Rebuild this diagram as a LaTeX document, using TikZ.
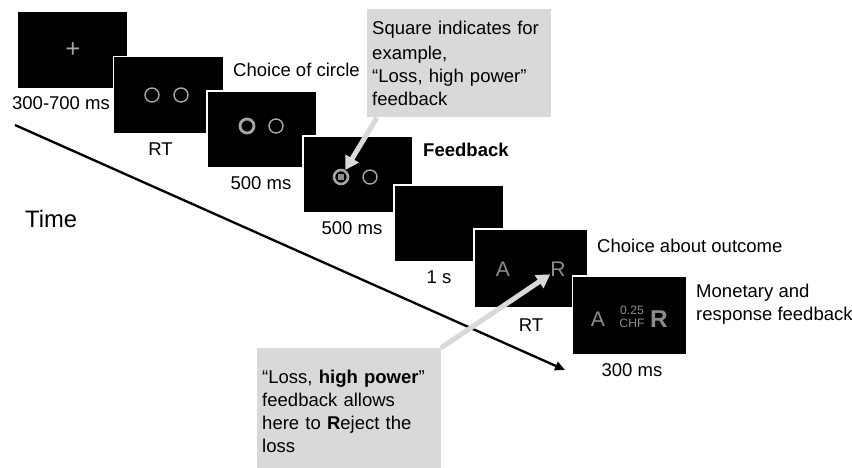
\documentclass[tikz,border=0pt]{standalone}
\usepackage{fontspec}
\setmainfont{Liberation Sans}
\usetikzlibrary{arrows.meta}
\definecolor{notegray}{HTML}{D9D9D9}
\definecolor{ringgray}{HTML}{A6A6A6}
\definecolor{lettergray}{HTML}{8C8C8C}
\begin{document}
\begin{tikzpicture}[x=0.03cm, y=-0.03cm,
		screen/.style={fill=black, draw=white, line width=1.5pt, minimum width=3.3cm, minimum height=2.31cm, inner sep=0pt},
		bigscreen/.style={screen, minimum width=3.42cm, minimum height=2.37cm},
		txt/.style={font=\fontsize{15.8}{19.6}\selectfont, inner sep=0pt},
		ring/.style={circle, draw=ringgray, line width=1.2pt, minimum size=0.42cm, inner sep=0pt},
		letter/.style={text=lettergray, inner sep=0pt, font=\fontsize{18}{18}\selectfont},
		note/.style={txt, fill=notegray, text width=5.2cm, inner xsep=0.15cm, align=left, anchor=north west},
		pointer/.style={notegray, line width=0.15cm, -{Triangle[length=0.4cm, width=0.45cm]}}]
	\path [use as bounding box, clip] (0,0) rectangle (852,467);
	\coordinate (tstart) at (15,125);
	\coordinate (tend) at (565,370);
	\draw [line width=2pt, -{Triangle[length=0.3cm, width=0.27cm]}] (tstart) -- (tend);
	\node [screen] (s1) at (72.5,50) {};
	\node [text=ringgray, inner sep=0pt, font=\fontsize{22}{22}\selectfont] (fix) at (73,50) {+};
	\node [screen] (s2) at (168.5,95) {};
	\node [ring] (c2a) at (152,95) {};
	\node [ring] (c2b) at (181,95) {};
	\node [screen] (s3) at (262,129.5) {};
	\node [ring, line width=2.4pt] (c3a) at (247,126) {};
	\node [ring] (c3b) at (276,126) {};
	\node [screen] (s4) at (358,174.5) {};
	\node [ring, line width=2.2pt] (c4a) at (341,177) {};
	\node [fill=lettergray, minimum size=0.17cm, inner sep=0pt] (sq4) at (341,177) {};
	\node [ring] (c4b) at (370,177) {};
	\node [screen] (s5) at (449,223.5) {};
	\node [bigscreen] (s6) at (531,268.5) {};
	\node [letter] (a6) at (503,269) {A};
	\node [letter] (r6) at (558,269) {R};
	\node [bigscreen] (s7) at (629.5,315.5) {};
	\node [letter] (a7) at (598,319) {A};
	\node [letter, font=\fontsize{10.4}{10.4}\selectfont] (amount) at (632,310) {0.25};
	\node [letter, font=\fontsize{10.4}{10.4}\selectfont] (chf) at (632,323) {CHF};
	\node [letter, font=\fontsize{20.8}{20.8}\selectfont\bfseries] (r7) at (659,319) {R};
	\node [txt] (t300700) at (61,103) {300-700 ms};
	\node [txt] (trt1) at (160.5,149) {RT};
	\node [txt] (t500a) at (261,183) {500 ms};
	\node [txt] (t500b) at (352,228) {500 ms};
	\node [txt] (t1s) at (439,277) {1 s};
	\node [txt] (trt2) at (531,325) {RT};
	\node [txt] (t300) at (632,370) {300 ms};
	\node [txt, anchor=west] (choice1) at (233,70) {Choice of circle};
	\node [txt, anchor=west] (fb) at (423,150) {\textbf{Feedback}};
	\node [txt, anchor=west] (choice2) at (597,246) {Choice about outcome};
	\node [txt, anchor=west, align=left] (monet) at (696,304) {Monetary and\\response feedback};
	\node [txt, anchor=west, font=\fontsize{20.3}{24}\selectfont] (time) at (25,219) {Time};
	\node [note, minimum height=3.24cm] (note1) at (367,9) {\vspace{2pt}Square indicates for\\example,\\“Loss, high power”\\feedback};
	\node [note, minimum height=3.81cm] (note2) at (257,348) {“Loss, \textbf{high power}”\\feedback allows\\here to \textbf{R}eject the\\loss};
	\draw [pointer] ([xshift=0.3cm]note1.south west) -- (c4a);
	\draw [pointer] (note2.north east) -- (r6);
\end{tikzpicture}
\end{document}
